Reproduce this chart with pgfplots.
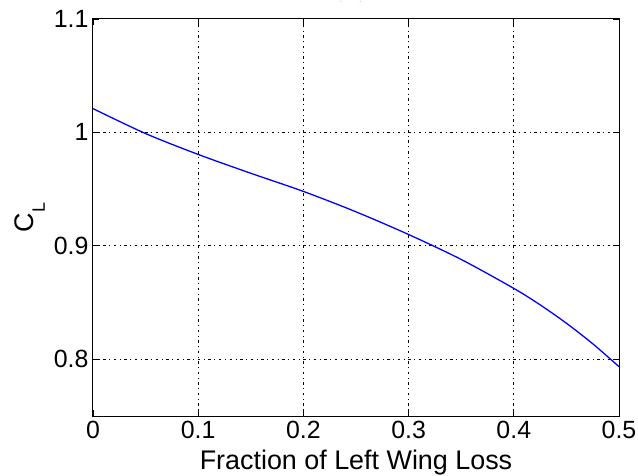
\documentclass[border=0pt]{standalone}
\usepackage{fontspec}
\setmainfont{Liberation Sans}
\usepackage{pgfplots}
\pgfplotsset{compat=1.18}
\begin{document}
\begin{tikzpicture}
\begin{axis}[
  scale only axis,
  width=526bp, height=397bp,
  xmin=0, xmax=0.5, ymin=0.75, ymax=1.1,
  xtick={0,0.1,0.2,0.3,0.4,0.5},
  xticklabels={0,0.1,0.2,0.3,0.4,0.5},
  ytick={0.8,0.9,1,1.1},
  yticklabels={0.8,0.9,1,1.1},
  tick align=inside, tick pos=both,
  major tick length=6bp,
  tick style={black, line width=0.8bp},
  grid=major,
  grid style={black, line width=1bp, dash pattern=on 2.5bp off 3.5bp on 1bp off 3.5bp},
  axis line style={black, line width=1bp},
  tick label style={font=\fontsize{25}{25}\selectfont},
  xticklabel style={yshift=-2bp},
  yticklabel style={xshift=-1bp},
  xlabel={Fraction of Left Wing Loss},
  xlabel style={font=\fontsize{27}{27}\selectfont, at={(axis description cs:0.5,-0.078)}, anchor=north},
  ylabel={C\raisebox{-11bp}{\fontsize{18}{18}\selectfont L}},
  ylabel style={font=\fontsize{27}{27}\selectfont, at={(axis description cs:-0.085,0.5)}, anchor=south, rotate=0},
  title={\fontsize{5}{5}\selectfont\color{gray}-\hspace{18bp}-},
  title style={at={(axis description cs:0.49,1.0)}, anchor=south, yshift=6bp},
]
\addplot[color={rgb,255:red,0;green,0;blue,255}, line width=1.3bp, smooth, tension=0.5] coordinates {
  (0,1.021) (0.05,0.999) (0.1,0.9806) (0.15,0.964) (0.2,0.948) (0.25,0.930)
  (0.3,0.910) (0.35,0.888) (0.4,0.8625) (0.425,0.848) (0.45,0.8318) (0.475,0.8137) (0.5,0.7935)
};
\coordinate (sw) at (rel axis cs:0,0);
\coordinate (ne) at (rel axis cs:1,1);
\end{axis}
\pgfresetboundingbox
\path ([shift={(-93bp,-60bp)}]sw) rectangle ([shift={(19bp,19bp)}]ne);
\end{tikzpicture}
\end{document}
